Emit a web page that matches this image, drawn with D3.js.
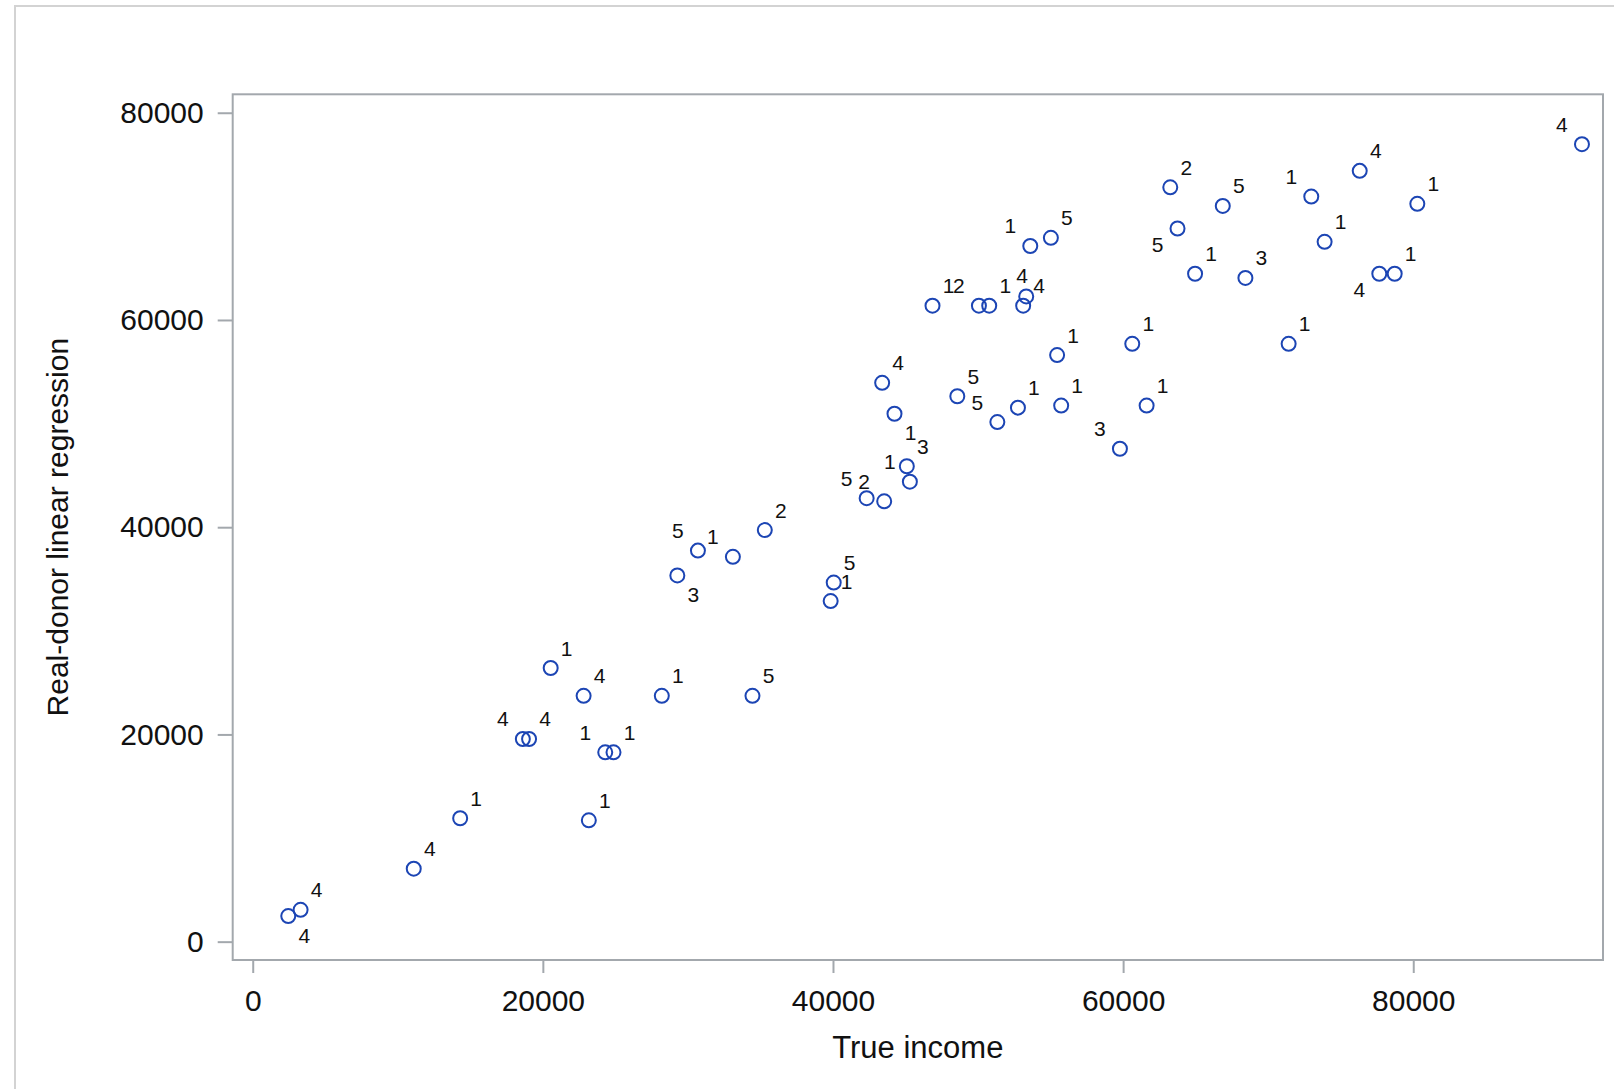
<!DOCTYPE html>
<html>
<head>
<meta charset="utf-8">
<script src="https://cdn.jsdelivr.net/npm/d3@7"></script>
<style>
    body { margin: 0; background: #fff; }
    svg { display: block; font-family: "Liberation Sans", Arial, sans-serif; }
</style>
</head>
<body>
<svg width="1614" height="1089"></svg>
<script>
// True income vs. real-donor regression imputation, labelled by imputation number
const trueIncome = [
    2450, 3300, 11100, 14300, 18620, 19050, 20540, 22810, 23170, 24300,
    24870, 28200, 34450, 29270, 30690, 33100, 35300, 40050, 39840, 42320,
    43530, 45090, 45300, 44240, 43390, 48570, 51330, 52750, 55730, 55450,
    60630, 61620, 59780, 46860, 50060, 50770, 53110, 53320, 53600, 55020,
    63250, 66870, 63750, 64960, 68430, 72970, 76310, 73890, 80280, 77660,
    78720, 71410, 91630
];
const regIncome = [
    2470, 3070, 7040, 11910, 19560, 19560, 26410, 23730, 11710, 18270,
    18270, 23730, 23730, 35350, 37740, 37140, 39720, 34660, 32870, 42800,
    42500, 45880, 44390, 50950, 53930, 52640, 50150, 51540, 51740, 56610,
    57700, 51740, 47570, 61380, 61380, 61380, 61380, 62270, 67140, 67930,
    72800, 71010, 68830, 64460, 64060, 71910, 74390, 67540, 71210, 64460,
    64460, 57700, 76970
];
const imputation = [
    '4', '4', '4', '1', '4', '4', '1', '4', '1', '1',
    '1', '1', '5', '3', '5', '1', '2', '5', '1', '5',
    '2', '3', '1', '1', '4', '5', '5', '1', '1', '1',
    '1', '1', '3', '1', '2', '1', '4', '4', '1', '5',
    '2', '5', '5', '1', '3', '1', '4', '1', '1', '4',
    '1', '1', '4'
];
// where the data label sits relative to its marker
const labelSide = [
    'br', 'tr', 'tr', 'tr', 'tl', 'tr', 'tr', 'tr', 'tr', 'tl',
    'tr', 'tr', 'tr', 'br', 'tl', 'tl', 'tr', 'tr', 'tr', 'tl',
    'tl', 'tr', 'tl', 'br', 'tr', 'tr', 'tl', 'tr', 'tr', 'tr',
    'tr', 'tr', 'tl', 'tr', 'tl', 'tr', 'tr', 't', 'tl', 'tr',
    'tr', 'tr', 'bl', 'tr', 'tr', 'tl', 'tr', 'tr', 'tr', 'bl',
    'tr', 'tr', 'tl'
];
const xTicks = [0, 20000, 40000, 60000, 80000];
const yTicks = [0, 20000, 40000, 60000, 80000];

const svg = d3.select('svg');

const frame = {left: 232.7, right: 1603, top: 94.3, bottom: 960};

const x = d3.scaleLinear()
        .domain([-1380, 93080])
        .range([frame.left, frame.right]);
const y = d3.scaleLinear()
        .domain([-1770, 81780])
        .range([frame.bottom, frame.top]);

// outer border of the graph area
svg.append('rect')
        .attr('x', 15).attr('y', 6)
        .attr('width', 1700).attr('height', 1200)
        .attr('fill', 'none')
        .attr('stroke', '#d3d3d3')
        .attr('stroke-width', 2);

const axisColor = '#a3a8ad';

const xAxis = svg.append('g')
        .attr('transform', `translate(0,${frame.bottom})`)
        .call(d3.axisBottom(x)
                .tickValues(xTicks)
                .tickFormat(d3.format('d'))
                .tickSizeOuter(0)
                .tickSize(13)
                .tickPadding(17));

const yAxis = svg.append('g')
        .attr('transform', `translate(${frame.left},0)`)
        .call(d3.axisLeft(y)
                .tickValues(yTicks)
                .tickFormat(d3.format('d'))
                .tickSizeOuter(0)
                .tickSize(15)
                .tickPadding(14));

[xAxis, yAxis].forEach(a => {
    a.select('.domain').remove();
    a.selectAll('line').attr('stroke', axisColor).attr('stroke-width', 2);
    a.selectAll('text')
            .attr('fill', '#111')
            .style('font-size', '30px')
            .style('font-family', '"Liberation Sans", Arial, sans-serif');
});

svg.append('rect')
        .attr('x', frame.left).attr('y', frame.top)
        .attr('width', frame.right - frame.left)
        .attr('height', frame.bottom - frame.top)
        .attr('fill', 'none')
        .attr('stroke', axisColor)
        .attr('stroke-width', 2);

svg.append('text')
        .attr('x', (frame.left + frame.right) / 2)
        .attr('y', 1058)
        .attr('text-anchor', 'middle')
        .attr('fill', '#111')
        .style('font-size', '31px')
        .text('True income');

svg.append('text')
        .attr('transform', `translate(68,${(frame.top + frame.bottom) / 2}) rotate(-90)`)
        .attr('text-anchor', 'middle')
        .attr('fill', '#111')
        .style('font-size', '30px')
        .text('Real-donor linear regression');

const points = trueIncome.map((v, i) => ({
    tx: v, ry: regIncome[i], lab: imputation[i], side: labelSide[i]
}));

const offsets = {
    tr: [16, -20], tl: [-20, -20], br: [16, 19], bl: [-20, 16], t: [-4, -21]
};

svg.append('g')
        .selectAll('circle')
        .data(points)
        .enter().append('circle')
        .attr('cx', d => x(d.tx))
        .attr('cy', d => y(d.ry))
        .attr('r', 7)
        .attr('fill', 'none')
        .attr('stroke', '#1c45b4')
        .attr('stroke-width', 2);

svg.append('g')
        .selectAll('text')
        .data(points)
        .enter().append('text')
        .attr('x', d => x(d.tx) + offsets[d.side][0])
        .attr('y', d => y(d.ry) + offsets[d.side][1])
        .attr('text-anchor', 'middle')
        .attr('dominant-baseline', 'central')
        .attr('fill', '#111')
        .style('font-size', '21px')
        .text(d => d.lab);
</script>
</body>
</html>
